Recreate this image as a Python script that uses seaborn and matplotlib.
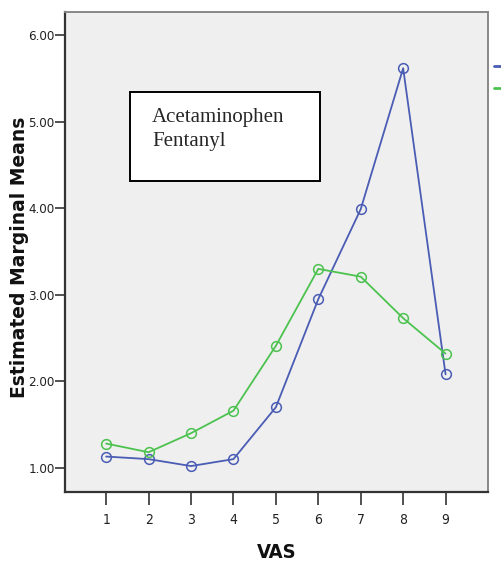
import matplotlib
matplotlib.use("Agg")
import matplotlib.pyplot as plt
import pandas as pd
import seaborn as sns
from matplotlib.lines import Line2D

vas = [1, 2, 3, 4, 5, 6, 7, 8, 9]
acetaminophen = [1.13, 1.10, 1.02, 1.10, 1.70, 2.95, 3.99, 5.62, 2.08]
fentanyl = [1.28, 1.18, 1.40, 1.66, 2.41, 3.30, 3.21, 2.73, 2.32]
y_ticks = [1.0, 2.0, 3.0, 4.0, 5.0, 6.0]

BLUE = "#4a5cb4"
GREEN = "#4cc24f"

df = pd.DataFrame({
    "VAS": vas * 2,
    "mean": acetaminophen + fentanyl,
    "group": ["Acetaminophen"] * len(vas) + ["Fentanyl"] * len(vas),
})

sns.set_theme(style="ticks")
narrow = dict(family="DejaVu Sans", stretch="condensed")

fig = plt.figure(figsize=(5.02, 5.64), dpi=100)
ax = fig.add_axes([65 / 502, 72 / 564, 423 / 502, 480 / 564])
ax.set_facecolor("#efefef")

sns.lineplot(data=df, x="VAS", y="mean", hue="group",
             palette={"Acetaminophen": BLUE, "Fentanyl": GREEN},
             marker="o", markersize=7, linewidth=1.3, legend=False, ax=ax)
for line in ax.lines:
    line.set_markerfacecolor("none")
    line.set_markeredgecolor(line.get_color())
    line.set_markeredgewidth(1.1)

ax.set_xlim(0.03, 10.0)
ax.set_ylim(0.72, 6.27)
ax.set_xticks(vas)
ax.set_xticklabels([str(v) for v in vas], fontsize=10, color="#222222", **narrow)
ax.set_yticks(y_ticks)
ax.set_yticklabels([f"{v:.2f}" for v in y_ticks], fontsize=9.5, color="#222222", **narrow)
ax.tick_params(axis="y", direction="out", length=7, width=1.2, color="#333333", pad=0.5)
ax.tick_params(axis="x", direction="out", length=9, width=1.2, color="#333333", pad=6)

for side in ["left", "bottom"]:
    ax.spines[side].set_color("#333333")
    ax.spines[side].set_linewidth(1.6)
for side in ["top", "right"]:
    ax.spines[side].set_visible(True)
    ax.spines[side].set_color("#888888")
    ax.spines[side].set_linewidth(1.4)

ax.set_xlabel("VAS", fontsize=14.5, fontweight="bold", va="center", color="#111111", **narrow)
ax.xaxis.set_label_coords(0.5, (564 - 553 - 72) / 480)
ax.set_ylabel("Estimated Marginal Means", fontsize=13.5, fontweight="bold",
              family="DejaVu Sans", va="center", color="#111111")
ax.yaxis.set_label_coords((20 - 65) / 423, (564 - 257 - 72) / 480)

# text box inside plot
ax.text((152 - 65) / 423, (564 - 108 - 72) / 480, "Acetaminophen\nFentanyl",
        transform=ax.transAxes, ha="left", va="top",
        family=["Liberation Serif", "DejaVu Serif"], fontsize=15, linespacing=1.37,
        zorder=6)
box = plt.Rectangle(((130 - 65) / 423, (564 - 181 - 72) / 480), 190 / 423, 89 / 480,
                    transform=ax.transAxes, facecolor="white", edgecolor="black",
                    linewidth=1.4, zorder=5)
ax.add_patch(box)

# legend clipped at the figure's right edge
handles = [Line2D([0], [0], color=BLUE, lw=2), Line2D([0], [0], color=GREEN, lw=2)]
fig.legend(handles, ["Acetaminophen", "Fentanyl"], loc="upper left",
           bbox_to_anchor=(482 / 502, (564 - 47) / 564), frameon=False,
           handlelength=1.6, fontsize=10, labelspacing=0.6)

fig.savefig("out.png", dpi=100)
